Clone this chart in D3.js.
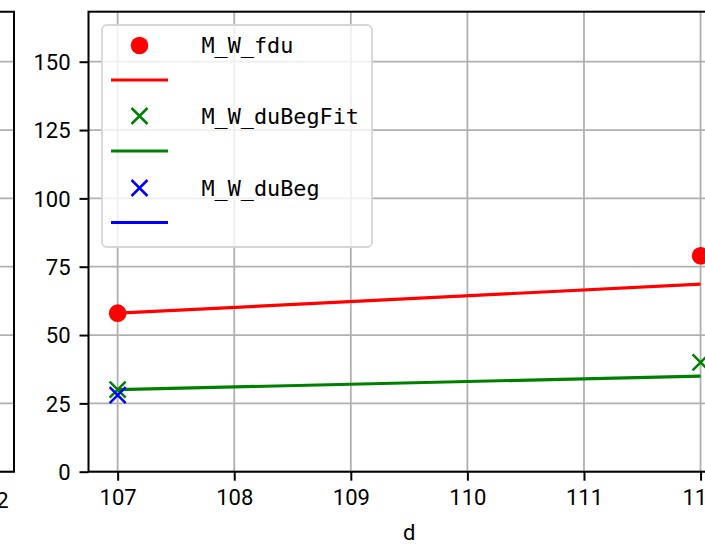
<!DOCTYPE html>
<html>
<head>
<meta charset="utf-8">
<script src="https://cdn.jsdelivr.net/npm/d3@7"></script>
<style>
html,body{margin:0;padding:0;background:#fff;}
svg{display:block;}
</style>
</head>
<body>
<svg id="chart" width="705" height="544"></svg>
<script>
// ---- data ----
const xTicks = [107, 108, 109, 110, 111, 112];
const yTicks = [0, 25, 50, 75, 100, 125, 150];
const fduX = [107, 112];
const fduY = [58, 79];
const fduFitX = [107, 112];
const fduFitY = [58, 68.6];
const begFitX = [107, 112];
const begFitY = [30, 40];
const begFitLineX = [107, 112];
const begFitLineY = [30, 35];
const begX = [107];
const begY = [28];
const begLineX = [107];
const begLineY = [28];
const legendLabels = ["M_W_fdu", "", "M_W_duBegFit", "", "M_W_duBeg", ""];
const xLabel = "d";
const leftPanelTickLabel = "112";

// ---- layout ----
const svg = d3.select("#chart");
const L = 88.5, R = 729.7, T = 11.7, B = 471.7;
const x = d3.scaleLinear().domain([106.75, 112.25]).range([L, R]);
const y = d3.scaleLinear().domain([0, 168.3]).range([B, T]);
const tickFont = "Roboto, 'DejaVu Sans', sans-serif";
const monoFont = "'DejaVu Sans Mono', 'Liberation Mono', monospace";
const gridColor = "#b0b0b0";
const lw = 3.2, sw = 2;

// left partial panel (shares y)
const lp = svg.append("g");
lp.selectAll("line.g").data(yTicks).join("line")
  .attr("x1", -20).attr("x2", 14).attr("y1", d => y(d)).attr("y2", d => y(d))
  .attr("stroke", gridColor).attr("stroke-width", 1.8);
lp.append("path").attr("d", `M-20,${T}H14V${B}H-20`)
  .attr("fill", "none").attr("stroke", "#000").attr("stroke-width", sw);
lp.append("text").attr("x", 8.5).attr("y", 508).attr("text-anchor", "end")
  .attr("font-family", tickFont).attr("font-size", 22).text(leftPanelTickLabel);

// grid
const grid = svg.append("g");
grid.selectAll("line.vx").data(xTicks).join("line")
  .attr("x1", d => x(d)).attr("x2", d => x(d)).attr("y1", T).attr("y2", B)
  .attr("stroke", gridColor).attr("stroke-width", 1.8);
grid.selectAll("line.hy").data(yTicks).join("line")
  .attr("x1", L).attr("x2", R).attr("y1", d => y(d)).attr("y2", d => y(d))
  .attr("stroke", gridColor).attr("stroke-width", 1.8);

// axes
const xAxis = svg.append("g").attr("transform", `translate(0,${B})`)
  .call(d3.axisBottom(x).tickValues(xTicks).tickFormat(d3.format("d")).tickSize(9).tickPadding(9).tickSizeOuter(0));
const yAxis = svg.append("g").attr("transform", `translate(${L},0)`)
  .call(d3.axisLeft(y).tickValues(yTicks).tickFormat(d3.format("d")).tickSize(9).tickPadding(9).tickSizeOuter(0));
[xAxis, yAxis].forEach(a => {
  a.selectAll("text").attr("font-family", tickFont).attr("font-size", 22).attr("fill", "#000");
  a.selectAll("line").attr("stroke", "#000").attr("stroke-width", sw);
  a.select(".domain").remove();
});
xAxis.selectAll("text").attr("dy", "0.71em");
yAxis.selectAll("text").attr("dy", "0.36em");

// spines
svg.append("rect").attr("x", L).attr("y", T).attr("width", R - L).attr("height", B - T)
  .attr("fill", "none").attr("stroke", "#000").attr("stroke-width", sw);

svg.append("text").attr("x", (L + R) / 2).attr("y", 540).attr("text-anchor", "middle")
  .attr("font-family", tickFont).attr("font-size", 22).text(xLabel);

// data marks
const line = d3.line().x(d => x(d[0])).y(d => y(d[1]));
const zip = (a, b) => a.map((v, i) => [v, b[i]]);
const plot = svg.append("g");

function xMarker(g, px, py, color, s) {
  g.append("path").attr("d", `M${px - s},${py - s}L${px + s},${py + s}M${px - s},${py + s}L${px + s},${py - s}`)
    .attr("stroke", color).attr("stroke-width", 2.5).attr("fill", "none");
}

plot.selectAll("circle.fdu").data(zip(fduX, fduY)).join("circle")
  .attr("cx", d => x(d[0])).attr("cy", d => y(d[1])).attr("r", 8.8).attr("fill", "#ff0000");
plot.append("path").attr("d", line(zip(fduFitX, fduFitY)))
  .attr("stroke", "#ff0000").attr("stroke-width", lw).attr("fill", "none");
zip(begFitX, begFitY).forEach(d => xMarker(plot, x(d[0]), y(d[1]), "#008000", 8));
plot.append("path").attr("d", line(zip(begFitLineX, begFitLineY)))
  .attr("stroke", "#008000").attr("stroke-width", lw).attr("fill", "none");
zip(begX, begY).forEach(d => xMarker(plot, x(d[0]), y(d[1]), "#0000ff", 8));
plot.append("path").attr("d", line(zip(begLineX, begLineY)))
  .attr("stroke", "#0000ff").attr("stroke-width", lw).attr("fill", "none");

// legend
const lg = svg.append("g");
lg.append("rect").attr("x", 102).attr("y", 25).attr("width", 270).attr("height", 222)
  .attr("rx", 5).attr("fill", "#fff").attr("fill-opacity", 0.8)
  .attr("stroke", "#d6d6d6").attr("stroke-width", 1.8);
const rowY = [45.5, 80, 116, 151, 188, 222.5];
const colors = ["#ff0000", "#ff0000", "#008000", "#008000", "#0000ff", "#0000ff"];
const kinds = ["dot", "line", "x", "line", "x", "line"];
kinds.forEach((k, i) => {
  const cy = rowY[i];
  if (k === "dot") lg.append("circle").attr("cx", 139.5).attr("cy", cy).attr("r", 8.8).attr("fill", colors[i]);
  else if (k === "x") xMarker(lg, 139.5, cy, colors[i], 8);
  else lg.append("line").attr("x1", 111).attr("x2", 168).attr("y1", cy).attr("y2", cy)
    .attr("stroke", colors[i]).attr("stroke-width", lw);
  if (legendLabels[i]) lg.append("text").attr("x", 201.5).attr("y", cy).attr("dy", "0.36em")
    .attr("font-family", monoFont).attr("font-size", 21.8).attr("fill", "#000").text(legendLabels[i]);
});
</script>
</body>
</html>
